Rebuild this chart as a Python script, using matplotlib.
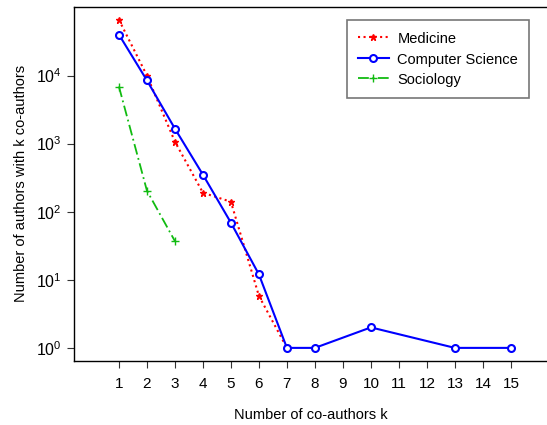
import matplotlib
matplotlib.use('Agg')
import matplotlib.pyplot as plt

plt.rcParams['font.family'] = ['Liberation Sans', 'DejaVu Sans']
plt.rcParams['mathtext.fontset'] = 'custom'
plt.rcParams['mathtext.rm'] = 'Liberation Sans'

# values
med_k = [1, 2, 3, 4, 5, 6, 7]
med_n = [66000, 10000, 1070, 190, 140, 5.8, 1]

cs_k = [1, 2, 3, 4, 5, 6, 7, 8, 10, 13, 15]
cs_n = [40000, 8500, 1660, 350, 69, 12, 1, 1, 2, 1, 1]

soc_k = [1, 2, 3]
soc_n = [6900, 204, 37]

x_ticks = list(range(1, 16))
y_ticks = [1, 10, 100, 1000, 10000]
y_labels = ['$10^{0}$', '$10^{1}$', '$10^{2}$', '$10^{3}$', '$10^{4}$']

fig = plt.figure(figsize=(5.47, 4.25), dpi=100)
ax = fig.add_axes([0.135, 0.151, 0.865, 0.833])

ax.plot(med_k, med_n, color='red', linestyle=':', linewidth=1.5,
        marker='*', markersize=5, label='Medicine')
ax.plot(cs_k, cs_n, color='blue', linestyle='-', linewidth=1.5,
        marker='o', markersize=5, markerfacecolor='white',
        markeredgewidth=1.5, label='Computer Science')
ax.plot(soc_k, soc_n, color='#11bb11', linestyle=(0, (6, 2, 1, 2)), linewidth=1.3,
        marker='+', markersize=6, label='Sociology')

ax.set_yscale('log')
ax.set_ylim(10 ** -0.19, 10 ** 5.01)
ax.set_xlim(-0.61, 16.29)
ax.set_xticks(x_ticks)
ax.set_xticklabels([str(k) for k in x_ticks], fontsize=11)
ax.set_yticks(y_ticks)
ax.set_yticklabels(y_labels, fontsize=11.5)
ax.minorticks_off()
ax.tick_params(direction='out', length=5, width=0.8, color='#333333')
ax.tick_params(axis='x', pad=7)

ax.spines['right'].set_visible(False)
for s in ['left', 'bottom', 'top']:
    ax.spines[s].set_linewidth(1.0)

ax.set_xlabel('Number of co-authors k', fontsize=10.5, labelpad=12)
ax.set_ylabel('Number of authors with k co-authors', fontsize=10.5, labelpad=6)

leg = ax.legend(loc='upper right', bbox_to_anchor=(0.962, 0.963), borderaxespad=0,
                fontsize=10.5, frameon=True, fancybox=False, handlelength=2.1,
                handletextpad=0.6, borderpad=0.75, handleheight=1.2, labelspacing=0.35)
leg.get_frame().set_edgecolor('#555555')
leg.get_frame().set_linewidth(1.2)

fig.savefig('out.png', dpi=100)
